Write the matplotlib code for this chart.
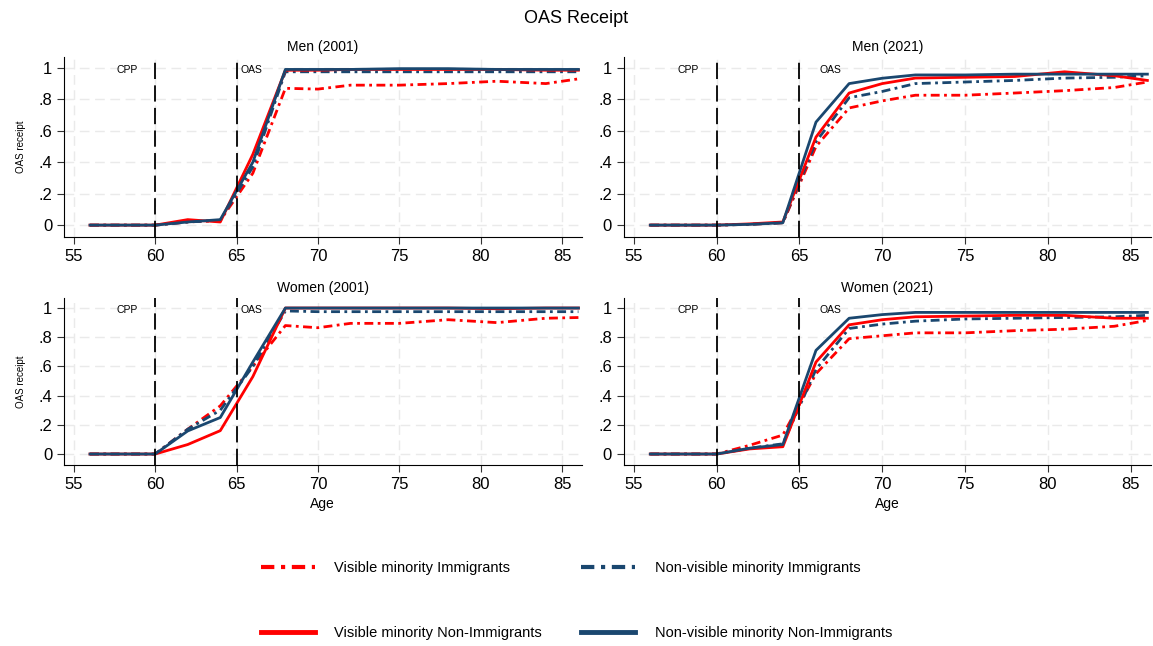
import matplotlib.pyplot as plt
from matplotlib.lines import Line2D

plt.rcParams['font.family'] = ['Liberation Sans', 'DejaVu Sans']

ages = [56, 58, 60, 62, 64, 66, 68, 70, 72, 75, 78, 81, 84, 86]

# Men (2001)
men01_vm_imm = [0, 0, 0, 0.02, 0.03, 0.33, 0.87, 0.865, 0.89, 0.89, 0.90, 0.915, 0.90, 0.93]
men01_nvm_imm = [0, 0, 0, 0.02, 0.03, 0.37, 0.975, 0.975, 0.975, 0.975, 0.975, 0.975, 0.975, 0.975]
men01_vm_non = [0, 0, 0, 0.035, 0.02, 0.45, 0.985, 0.985, 0.99, 0.99, 0.99, 0.99, 0.985, 0.985]
men01_nvm_non = [0, 0, 0, 0.02, 0.035, 0.40, 0.99, 0.99, 0.99, 0.995, 0.995, 0.99, 0.99, 0.99]

# Men (2021)
men21_vm_imm = [0, 0, 0, 0.005, 0.015, 0.50, 0.745, 0.79, 0.826, 0.826, 0.84, 0.855, 0.875, 0.91]
men21_nvm_imm = [0, 0, 0, 0.005, 0.015, 0.53, 0.81, 0.85, 0.90, 0.91, 0.92, 0.935, 0.94, 0.95]
men21_vm_non = [0, 0, 0, 0.008, 0.02, 0.56, 0.84, 0.90, 0.935, 0.94, 0.945, 0.975, 0.95, 0.92]
men21_nvm_non = [0, 0, 0, 0.005, 0.015, 0.655, 0.90, 0.934, 0.955, 0.955, 0.96, 0.96, 0.96, 0.96]

# Women (2001)
wom01_vm_imm = [0, 0, 0, 0.17, 0.33, 0.60, 0.88, 0.865, 0.895, 0.895, 0.92, 0.90, 0.93, 0.935]
wom01_nvm_imm = [0, 0, 0, 0.17, 0.30, 0.60, 0.98, 0.975, 0.975, 0.975, 0.975, 0.975, 0.975, 0.975]
wom01_vm_non = [0, 0, 0, 0.065, 0.16, 0.53, 1.0, 1.0, 1.0, 1.0, 1.0, 0.995, 1.0, 1.0]
wom01_nvm_non = [0, 0, 0, 0.158, 0.25, 0.63, 1.0, 1.0, 1.0, 1.0, 1.0, 1.0, 1.0, 1.0]

# Women (2021)
wom21_vm_imm = [0, 0, 0, 0.06, 0.13, 0.55, 0.79, 0.81, 0.83, 0.83, 0.845, 0.855, 0.875, 0.915]
wom21_nvm_imm = [0, 0, 0, 0.04, 0.07, 0.58, 0.86, 0.89, 0.91, 0.925, 0.93, 0.935, 0.94, 0.95]
wom21_vm_non = [0, 0, 0, 0.035, 0.05, 0.63, 0.885, 0.92, 0.94, 0.945, 0.95, 0.95, 0.93, 0.93]
wom21_nvm_non = [0, 0, 0, 0.04, 0.065, 0.71, 0.93, 0.955, 0.97, 0.97, 0.97, 0.97, 0.97, 0.97]

panels = [
    ('Men (2001)', men01_vm_imm, men01_nvm_imm, men01_vm_non, men01_nvm_non),
    ('Men (2021)', men21_vm_imm, men21_nvm_imm, men21_vm_non, men21_nvm_non),
    ('Women (2001)', wom01_vm_imm, wom01_nvm_imm, wom01_vm_non, wom01_nvm_non),
    ('Women (2021)', wom21_vm_imm, wom21_nvm_imm, wom21_vm_non, wom21_nvm_non),
]

labels = ['Visible minority Immigrants', 'Non-visible minority Immigrants',
          'Visible minority Non-Immigrants', 'Non-visible minority Non-Immigrants']

RED = '#ff0000'
NAVY = '#1a476f'
dashdot = (0, (3.2, 1.6, 1.0, 1.6))
styles = [(RED, dashdot, 2.0), (NAVY, dashdot, 2.0), (RED, '-', 2.0), (NAVY, '-', 2.0)]

fig = plt.figure(figsize=(11.53, 6.46), dpi=100)

positions = [
    [0.0555, 0.633, 0.449, 0.279],
    [0.541, 0.633, 0.457, 0.279],
    [0.0555, 0.280, 0.449, 0.259],
    [0.541, 0.280, 0.457, 0.259],
]

for i, (title, *series) in enumerate(panels):
    ax = fig.add_axes(positions[i])
    for s, (c, ls, lw) in zip(series, styles):
        ax.plot(ages, s, color=c, linestyle=ls, linewidth=lw)
    ax.axvline(60, color='black', linestyle=(0, (9, 3.5)), linewidth=1.3)
    ax.axvline(65, color='black', linestyle=(0, (9, 3.5)), linewidth=1.3)
    ax.set_xlim(54.4, 86.2)
    ax.set_ylim(-0.076, 1.07)
    ax.set_xticks([55, 60, 65, 70, 75, 80, 85])
    ax.set_yticks([0, 0.2, 0.4, 0.6, 0.8, 1.0])
    ax.set_yticklabels(['0', '.2', '.4', '.6', '.8', '1'])
    ax.tick_params(axis='both', labelsize=12, length=5, color='#333333')
    ax.grid(True, color='#eaeaea', linestyle=(0, (7, 4)), linewidth=1.0)
    ax.set_axisbelow(True)
    for sp in ['top', 'right']:
        ax.spines[sp].set_visible(False)
    ax.set_title(title, fontsize=10, pad=4)
    ax.text(58.3, 0.985, 'CPP', fontsize=7.5, ha='center', va='center')
    if i % 2 == 0:
        ax.text(65.25, 0.985, 'OAS', fontsize=7.5, ha='left', va='center')
        ax.set_ylabel('OAS receipt', fontsize=7, labelpad=9)
    else:
        ax.text(66.9, 0.985, 'OAS', fontsize=7.5, ha='center', va='center')
    if i >= 2:
        ax.set_xlabel('Age', fontsize=10)

fig.suptitle('OAS Receipt', fontsize=13, y=0.985)

handles = [Line2D([0], [0], color=c, linestyle=ls, linewidth=lw + 1.5 if ls == '-' else lw + 1)
           for c, ls, lw in styles]
order = [0, 2, 1, 3]
fig.legend([handles[k] for k in order], [labels[k] for k in order], loc='center', ncol=2,
           bbox_to_anchor=(0.5, 0.07), frameon=False, fontsize=10.5, handlelength=3.7,
           handletextpad=1.35, columnspacing=2.7, labelspacing=3.5)

fig.savefig('out.png', dpi=100)
